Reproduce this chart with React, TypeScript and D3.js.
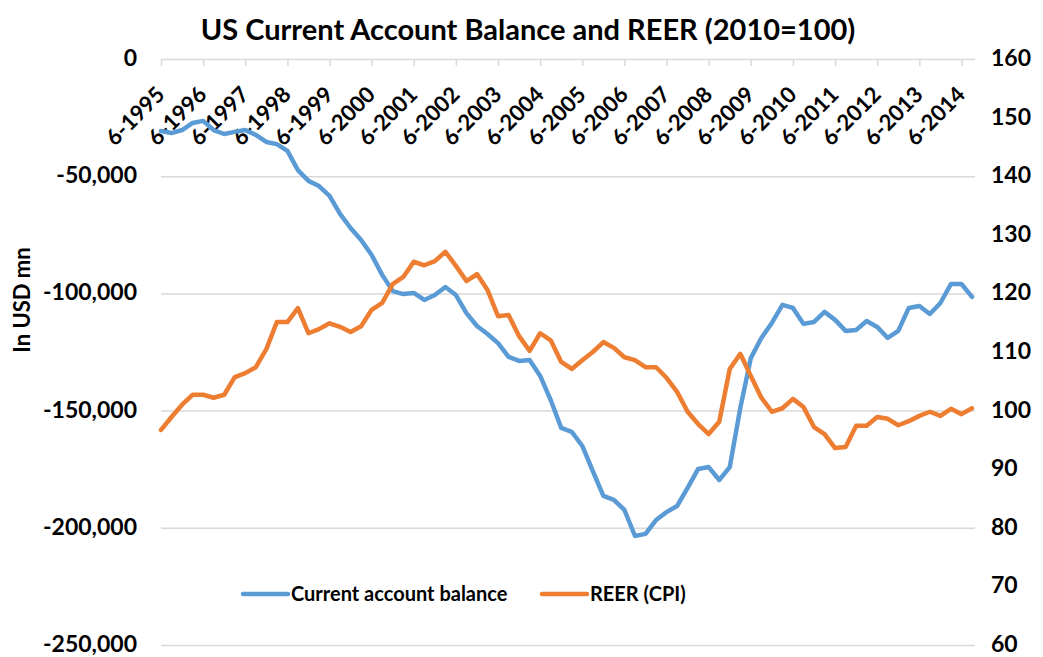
import { useEffect, useRef } from 'react'
import * as d3 from 'd3'

// quarterly, Jun 1995 .. Sep 2014
const tickLabels = [
  '6-1995', '6-1996', '6-1997', '6-1998', '6-1999', '6-2000', '6-2001', '6-2002', '6-2003', '6-2004',
  '6-2005', '6-2006', '6-2007', '6-2008', '6-2009', '6-2010', '6-2011', '6-2012', '6-2013', '6-2014',
]

const currentAccount = [
  -30700, -31600, -30300, -27300, -26400, -30300, -32000, -31100, -30300, -32400,
  -35400, -36300, -39200, -47400, -52000, -54200, -58400, -66100, -72100, -77200,
  -83600, -92100, -99000, -100300, -99800, -102800, -100700, -97300, -100700, -108400,
  -113900, -117300, -121200, -127100, -128800, -128400, -135200, -145500, -157400, -159100,
  -165100, -175800, -186400, -188100, -192400, -203500, -202600, -196700, -193300, -190700,
  -183000, -174900, -174100, -179600, -174100, -148900, -127600, -119000, -112600, -104900,
  -106200, -113000, -112200, -107900, -111300, -116000, -115600, -111800, -114300, -119000,
  -116000, -106200, -105400, -108800, -104100, -96000, -96000, -101500,
]

const reer = [
  96.7, 98.9, 101.0, 102.7, 102.7, 102.2, 102.7, 105.7, 106.4, 107.4,
  110.5, 115.1, 115.1, 117.5, 113.2, 113.9, 114.9, 114.3, 113.4, 114.4,
  117.2, 118.4, 121.6, 122.8, 125.4, 124.8, 125.5, 127.1, 124.7, 122.1,
  123.3, 120.6, 116.1, 116.3, 112.7, 110.2, 113.2, 112.0, 108.3, 107.1,
  108.6, 110.0, 111.7, 110.7, 109.1, 108.6, 107.4, 107.4, 105.6, 103.2,
  99.8, 97.7, 96.0, 98.1, 107.1, 109.7, 105.9, 102.2, 99.8, 100.4,
  102.0, 100.6, 97.2, 96.0, 93.6, 93.8, 97.4, 97.4, 98.9, 98.6,
  97.5, 98.2, 99.1, 99.8, 99.1, 100.3, 99.4, 100.4,
]

const leftTicks = [0, -50000, -100000, -150000, -200000, -250000]
const rightTicks = [160, 150, 140, 130, 120, 110, 100, 90, 80, 70, 60]

const W = 1043
const H = 657
const FONT = 'Lato, "Open Sans", sans-serif'
const BLUE = '#5b9bd5'
const ORANGE = '#ed7d31'
const GRID = '#d9d9d9'

export default function App() {
  const svgRef = useRef<SVGSVGElement>(null)

  useEffect(() => {
    const svg = d3.select(svgRef.current)
    svg.selectAll('*').remove()

    const left = 161, right = 975, top = 59, bottom = 645

    const x = d3.scaleLinear().domain([0, currentAccount.length - 1]).range([left, 972])
    const yL = d3.scaleLinear().domain([-250000, 0]).range([bottom, top])
    const yR = d3.scaleLinear().domain([60, 160]).range([bottom, top])

    svg.append('rect').attr('width', W).attr('height', H).attr('fill', '#fff')

    // gridlines
    svg.append('g')
      .attr('transform', `translate(${left},0)`)
      .call(d3.axisLeft(yL).tickValues(leftTicks).tickSize(-(right - left)).tickFormat(() => ''))
      .call(g => g.select('.domain').remove())
      .selectAll('line')
      .attr('stroke', GRID)
      .attr('stroke-width', 1.5)

    // category axis sits at the top (y = 0)
    const tickIdx = tickLabels.map((_, i) => i * 4)
    svg.append('g')
      .attr('transform', `translate(0,${top})`)
      .call(d3.axisBottom(x).tickValues(tickIdx).tickSize(7).tickFormat(() => ''))
      .call(g => g.select('.domain').remove())
      .selectAll('line')
      .attr('stroke', GRID)
      .attr('stroke-width', 1.5)

    svg.append('g')
      .selectAll('text')
      .data(tickIdx)
      .join('text')
      .attr('transform', d => `translate(${x(d) + 5},${top + 37}) rotate(-45)`)
      .attr('text-anchor', 'end')
      .attr('font-family', FONT)
      .attr('font-weight', 700)
      .attr('font-size', 22)
      .text((_, i) => tickLabels[i])

    // left axis labels
    svg.append('g')
      .selectAll('text')
      .data(leftTicks)
      .join('text')
      .attr('x', 137)
      .attr('y', d => yL(d))
      .attr('dy', '0.3em')
      .attr('text-anchor', 'end')
      .attr('font-family', FONT)
      .attr('font-weight', 700)
      .attr('font-size', 23)
      .text(d => d3.format(',')(d).replace('−', '-'))

    // right axis labels
    svg.append('g')
      .selectAll('text')
      .data(rightTicks)
      .join('text')
      .attr('x', 991)
      .attr('y', d => yR(d))
      .attr('dy', '0.3em')
      .attr('font-family', FONT)
      .attr('font-weight', 700)
      .attr('font-size', 23)
      .text(d => d)

    svg.append('text')
      .attr('transform', `translate(30,300) rotate(-90)`)
      .attr('text-anchor', 'middle')
      .attr('font-family', FONT)
      .attr('font-weight', 700)
      .attr('font-size', 22)
      .text('In USD mn')

    svg.append('text')
      .attr('x', 528)
      .attr('y', 40)
      .attr('text-anchor', 'middle')
      .attr('font-family', FONT)
      .attr('font-weight', 700)
      .attr('font-size', 29)
      .text('US Current Account Balance and REER (2010=100)')

    const lineL = d3.line<number>().x((_, i) => x(i)).y(d => yL(d))
    const lineR = d3.line<number>().x((_, i) => x(i)).y(d => yR(d))

    svg.append('path')
      .datum(currentAccount)
      .attr('d', lineL)
      .attr('fill', 'none')
      .attr('stroke', BLUE)
      .attr('stroke-width', 4.5)
      .attr('stroke-linejoin', 'round')
      .attr('stroke-linecap', 'round')

    svg.append('path')
      .datum(reer)
      .attr('d', lineR)
      .attr('fill', 'none')
      .attr('stroke', ORANGE)
      .attr('stroke-width', 4.5)
      .attr('stroke-linejoin', 'round')
      .attr('stroke-linecap', 'round')

    // legend
    const legend = [
      { label: 'Current account balance', color: BLUE, x0: 243 },
      { label: 'REER (CPI)', color: ORANGE, x0: 542 },
    ]
    const lg = svg.append('g').selectAll('g').data(legend).join('g')
    lg.append('line')
      .attr('x1', d => d.x0).attr('x2', d => d.x0 + 45)
      .attr('y1', 594).attr('y2', 594)
      .attr('stroke', d => d.color)
      .attr('stroke-width', 4.5)
      .attr('stroke-linecap', 'round')
    lg.append('text')
      .attr('x', d => d.x0 + 48)
      .attr('y', 594)
      .attr('dy', '0.35em')
      .attr('font-family', FONT)
      .attr('font-weight', 700)
      .attr('font-size', 20)
      .text(d => d.label)
  }, [])

  return (
    <div style={{ position: 'absolute', left: 0, top: 0 }}>
      <svg ref={svgRef} width={W} height={H} />
    </div>
  )
}
